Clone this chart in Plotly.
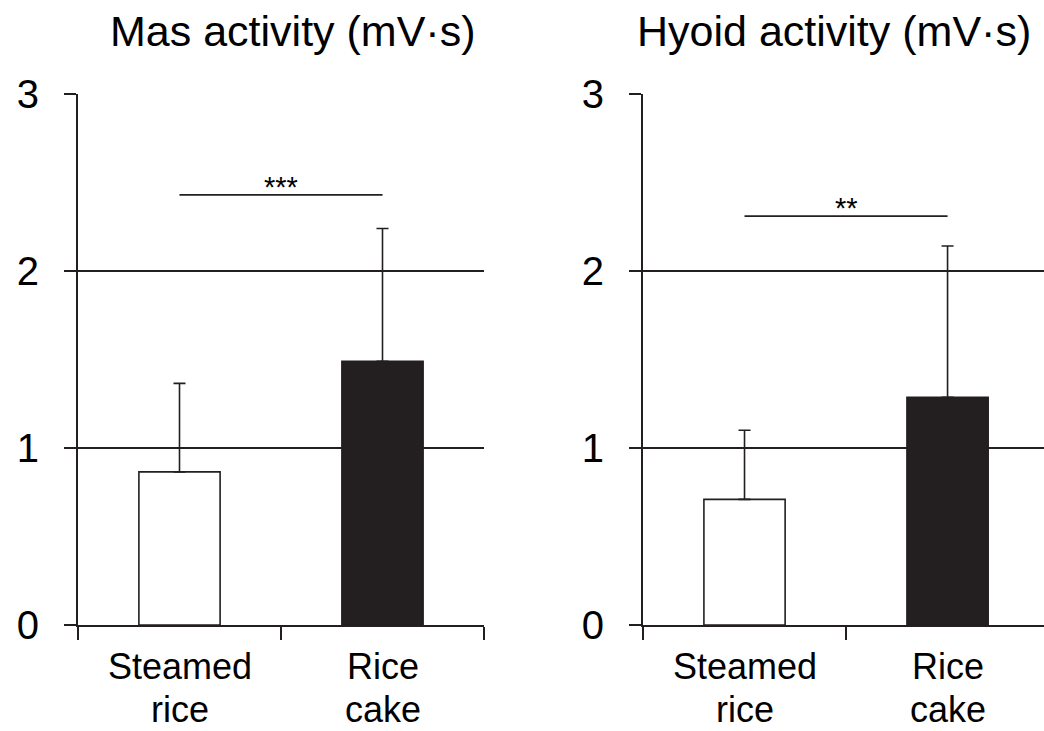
import plotly.graph_objects as go

# Data
categories = ["Steamed<br>rice", "Rice<br>cake"]
panel_titles = ["Mas activity (mV·s)", "Hyoid activity (mV·s)"]
mas_mean = [0.865, 1.49]
mas_sd = [0.50, 0.75]
hyoid_mean = [0.71, 1.286]
hyoid_sd = [0.39, 0.855]
sig_level = [2.43, 2.31]
sig_label = ["***", "**"]
y_ticks = [0, 1, 2, 3]

INK = "#231f20"
FONT = "Liberation Sans, Arial, sans-serif"
W, H = 1044, 731

fig = go.Figure()

panels = [(mas_mean, mas_sd, "x", "y"), (hyoid_mean, hyoid_sd, "x2", "y2")]
for mean, sd, xa, ya in panels:
    fig.add_trace(go.Bar(
        x=categories, y=mean, xaxis=xa, yaxis=ya,
        marker=dict(color=["white", INK], line=dict(color=INK, width=1.6)),
        error_y=dict(type="data", symmetric=False, array=sd,
                     arrayminus=[0] * len(sd), color=INK, thickness=1.6, width=6),
        showlegend=False,
    ))

# Significance brackets
for i, (xa, ya) in enumerate([("x", "y"), ("x2", "y2")]):
    fig.add_shape(type="line", xref=xa, yref=ya,
                  x0=categories[0], x1=categories[1],
                  y0=sig_level[i], y1=sig_level[i],
                  line=dict(color=INK, width=1.8))
    fig.add_annotation(xref=xa, yref=ya, x=0.5, y=sig_level[i],
                       text=sig_label[i], showarrow=False, yanchor="bottom",
                       yshift=-10, font=dict(family=FONT, size=29, color="black"))

# Panel titles
title_x = [292.5 / W, 834.0 / W]
for t, tx in zip(panel_titles, title_x):
    fig.add_annotation(xref="paper", yref="paper", x=tx, y=1 - 31 / H,
                       text=t, showarrow=False, xanchor="center", yanchor="middle",
                       font=dict(family=FONT, size=43, color="black"))

# Two-line category labels under each axis
line_mid_px = [666, 709]
for xa in ["x", "x2"]:
    for cat in categories:
        for k, part in enumerate(cat.split("<br>")):
            fig.add_annotation(xref=xa, yref="paper", x=cat, y=1 - line_mid_px[k] / H,
                               text=part, showarrow=False, xanchor="center",
                               yanchor="middle",
                               font=dict(family=FONT, size=36, color="black"))

y_dom = [(H - 625) / H, (H - 94) / H]
xaxis_common = dict(
    type="category", showline=True, linecolor=INK, linewidth=2.2,
    ticks="outside", ticklen=13, tickwidth=2, tickcolor=INK,
    tickson="boundaries", showticklabels=False, showgrid=False,
    zeroline=False, fixedrange=True, automargin=False,
)
yaxis_common = dict(
    range=[0, 3], tickvals=y_ticks, showline=True, linecolor=INK, linewidth=2.2,
    ticks="outside", ticklen=12, tickwidth=2, tickcolor=INK,
    showgrid=True, gridcolor=INK, gridwidth=1.8, zeroline=False,
    tickfont=dict(family=FONT, size=40, color="black"),
    ticklabelstandoff=17, domain=y_dom, fixedrange=True, automargin=False,
)

fig.update_layout(
    width=W, height=H,
    margin=dict(l=0, r=0, t=0, b=0, autoexpand=False),
    paper_bgcolor="white", plot_bgcolor="white",
    bargap=0.6,
    xaxis=dict(xaxis_common, domain=[78 / W, 484 / W], range=[-0.5, 1.5], anchor="y"),
    yaxis=dict(yaxis_common, anchor="x"),
    xaxis2=dict(xaxis_common, domain=[643 / W, 1.0], range=[-0.5, 1.475], anchor="y2"),
    yaxis2=dict(yaxis_common, anchor="x2"),
)

fig.write_html("out.html")
